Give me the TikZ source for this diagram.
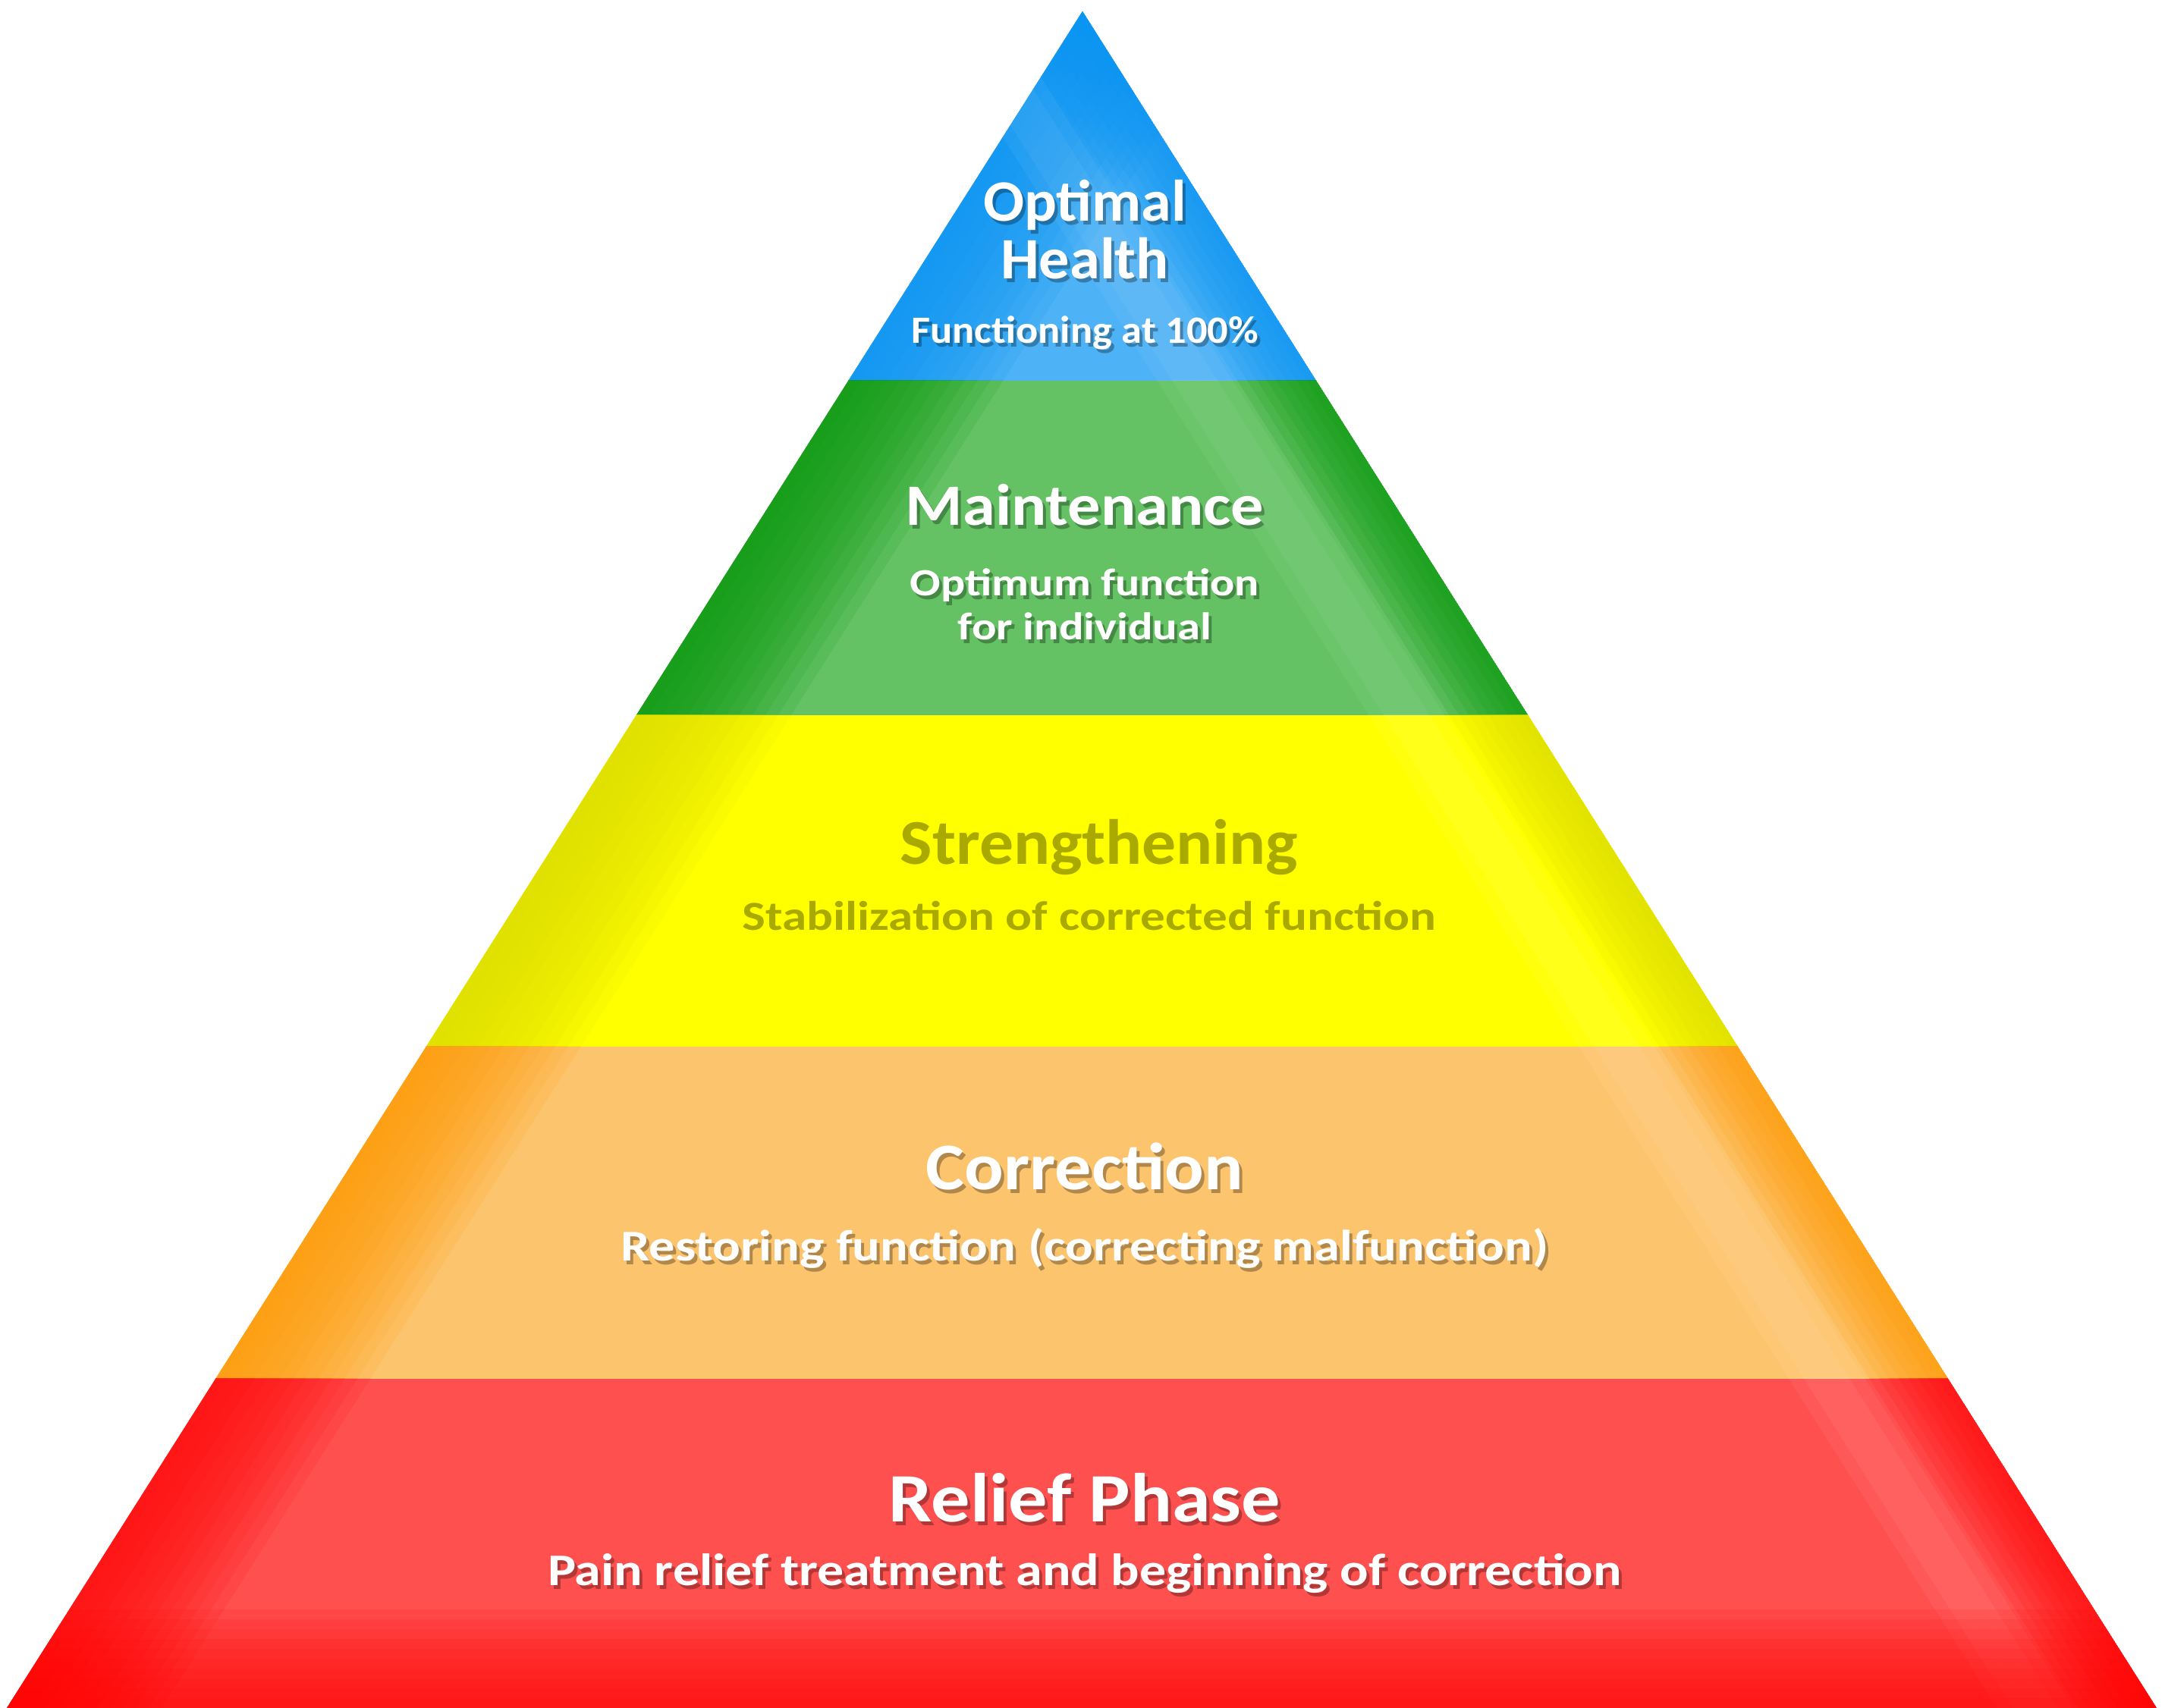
\documentclass[tikz,border=0pt]{standalone}
\usepackage{fontspec}
\setmainfont{Carlito}
\usetikzlibrary{calc}

\definecolor{blueedge}{HTML}{0A95F2}
\definecolor{bluemid}{HTML}{4DB2F6}
\definecolor{greenedge}{HTML}{08980C}
\definecolor{greenmid}{HTML}{64C264}
\definecolor{yellowedge}{HTML}{DCDC00}
\definecolor{yellowmid}{HTML}{FFFF00}
\definecolor{orangeedge}{HTML}{FF9A00}
\definecolor{orangemid}{HTML}{FDC46E}
\definecolor{rededge}{HTML}{FF0A0A}
\definecolor{redmid}{HTML}{FF5050}
\definecolor{olive}{HTML}{A9A900}

% one band of the pyramid: low y, high y, edge colour, middle colour
\newcommand\band[4]{%
  \begin{scope}
    \clip (0,#1) rectangle (28.54,#2);
    \clip (A) -- (L) -- (R) -- cycle;
    \fill[#4] (0,#1) rectangle (28.54,#2);
    \foreach \k in {1,...,12}
      \fill[#3, opacity=0.12] (L) -- (A) -- ($(A)+(\k*0.17,0)$) -- ($(L)+(\k*0.17,0)$) -- cycle;
    \foreach \k in {1,...,8}
      \fill[#3, opacity=0.15] (R) -- (A) -- ($(A)-(\k*0.13,0)$) -- ($(R)-(\k*0.13,0)$) -- cycle;
    \foreach \k in {1.1,1.3,1.5,1.7}
      \fill[white, opacity=0.05] ($(R)-(\k,0)$) -- ($(A)-(\k,0)$) -- ($(A)-(\k+0.4,0)$) -- ($(R)-(\k+0.4,0)$) -- cycle;
  \end{scope}}

% text with a soft drop shadow: name, x, y, style, text, stretch
\newcommand\phase[6]{%
  \node[#4, text=black, opacity=0.3] (#1s) at ($(#2,#3)+(0.04,-0.05)$) {\scalebox{#6}[1]{#5}};
  \node[#4] (#1) at (#2,#3) {\scalebox{#6}[1]{#5}};}

\tikzset{
  lbl/.style={text=white, anchor=base, inner sep=0pt},
  pt/.style={lbl, font=\bfseries\fontsize{#1}{#1}\selectfont},
}

\begin{document}
\begin{tikzpicture}
  \useasboundingbox (0,0) rectangle (28.54,22.52);
  \coordinate (A) at (14.27,22.37);
  \coordinate (L) at (0.09,0);
  \coordinate (R) at (28.43,0);

  \band{17.50}{22.52}{blueedge}{bluemid}
  \band{13.09}{17.50}{greenedge}{greenmid}
  \band{8.72}{13.09}{yellowedge}{yellowmid}
  \band{4.34}{8.72}{orangeedge}{orangemid}
  \band{0}{4.34}{rededge}{redmid}

  % darker foot of the red band
  \begin{scope}
    \clip (A) -- (L) -- (R) -- cycle;
    \foreach \k in {1,...,10}
      \fill[red, opacity=0.1] (0,0) rectangle (28.54,\k*0.13);
  \end{scope}

  \phase{opt}{14.30}{19.60}{pt=22}{Optimal}{1.035}
  \phase{hlth}{14.30}{18.84}{pt=22}{Health}{1.04}
  \phase{func}{14.30}{17.99}{pt=14.5}{Functioning at 100\%}{1.07}

  \phase{maint}{14.30}{15.59}{pt=22}{Maintenance}{1.117}
  \phase{optfn}{14.30}{14.66}{pt=14.5}{Optimum function}{1.18}
  \phase{indiv}{14.30}{14.08}{pt=14.5}{for individual}{1.19}

  \node[pt=24, text=olive] (strg) at (14.49,11.12) {\scalebox{1.063}[1]{Strengthening}};
  \node[pt=15.5, text=olive] (stab) at (14.36,10.25) {\scalebox{1.195}[1]{Stabilization of corrected function}};

  \phase{corr}{14.30}{6.83}{pt=25}{Correction}{1.095}
  \phase{rest}{14.30}{5.89}{pt=16.5}{Restoring function (correcting malfunction)}{1.18}

  \phase{relf}{14.30}{2.45}{pt=26}{Relief Phase}{1.12}
  \phase{pain}{14.30}{1.61}{pt=17}{Pain relief treatment and beginning of correction}{1.17}
\end{tikzpicture}
\end{document}
